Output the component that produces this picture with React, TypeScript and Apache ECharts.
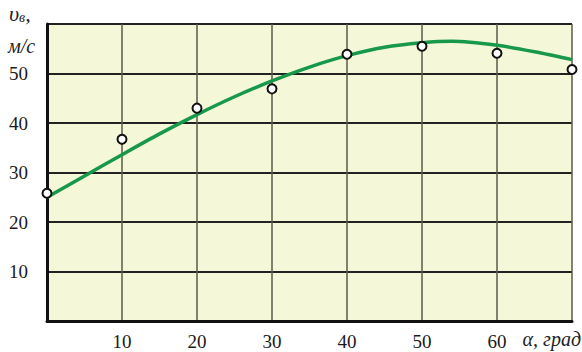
import React, { useEffect, useRef } from "react";
import * as echarts from "echarts";

const pointAngles = [0, 10, 20, 30, 40, 50, 60, 70];
const pointSpeeds = [25.8, 36.7, 43.0, 46.9, 53.9, 55.5, 54.1, 50.8];

const curveAngles = [0, 5, 10, 15, 20, 25, 30, 35, 40, 45, 50, 54, 60, 65, 70];
const curveSpeeds = [25.0, 29.3, 33.6, 37.8, 41.7, 45.3, 48.5, 51.3, 53.6, 55.3, 56.2, 56.5, 55.7, 54.4, 52.8];

const xTickLabels = ["10", "20", "30", "40", "50", "60"];
const yTickLabels = ["10", "20", "30", "40", "50"];

const FONT = "'Liberation Serif', 'DejaVu Serif', serif";

export default function App() {
  const ref = useRef<HTMLDivElement>(null);
  useEffect(() => {
    document.body.style.margin = "0";
    if (!ref.current) return;
    const chart = echarts.init(ref.current, null, { renderer: "svg" });
    chart.setOption({
      animation: false,
      backgroundColor: "#ffffff",
      grid: {
        left: 47,
        right: 10,
        top: 24,
        bottom: 31,
        show: true,
        backgroundColor: "#f5f8d8",
        borderWidth: 0,
      },
      xAxis: {
        type: "value",
        min: 0,
        max: 70,
        interval: 10,
        axisLine: { show: true, onZero: false, lineStyle: { color: "#111", width: 3 } },
        axisTick: { show: false },
        axisLabel: {
          margin: 11,
          fontFamily: FONT,
          fontSize: 19,
          color: "#1a1a1a",
          formatter: (v: number) => (xTickLabels.includes(String(v)) ? String(v) : ""),
        },
        splitLine: { show: true, lineStyle: { color: "#5a5a4a", width: 1.5 } },
      },
      yAxis: {
        type: "value",
        min: 0,
        max: 60,
        interval: 10,
        axisLine: { show: true, onZero: false, lineStyle: { color: "#111", width: 3 } },
        axisTick: { show: false },
        axisLabel: {
          margin: 19,
          fontFamily: FONT,
          fontSize: 19,
          color: "#1a1a1a",
          formatter: (v: number) => (yTickLabels.includes(String(v)) ? String(v) : ""),
        },
        splitLine: { show: true, lineStyle: { color: "#222", width: 2 } },
      },
      graphic: [
        {
          type: "text",
          left: 9,
          top: 2,
          style: {
            text: "{v|υ}{s|в}{v|,}",
            rich: {
              v: { fontFamily: FONT, fontStyle: "italic", fontSize: 22, fill: "#222" },
              s: { fontFamily: FONT, fontStyle: "italic", fontSize: 14, fill: "#222", padding: [8, 0, 0, 0] },
            },
          },
        },
        {
          type: "text",
          left: 8,
          top: 36,
          style: { text: "м/с", fontFamily: FONT, fontStyle: "italic", fontSize: 20, fill: "#222" },
        },
        {
          type: "text",
          right: 1,
          top: 329,
          style: { text: "α, град", fontFamily: FONT, fontStyle: "italic", fontSize: 20, fill: "#222" },
        },
      ],
      series: [
        {
          type: "line",
          data: curveAngles.map((a, i) => [a, curveSpeeds[i]]),
          smooth: 0.3,
          showSymbol: false,
          symbol: "none",
          lineStyle: { color: "#17984a", width: 3.5 },
          z: 3,
        },
        {
          type: "scatter",
          data: pointAngles.map((a, i) => [a, pointSpeeds[i]]),
          symbol: "circle",
          symbolSize: 9,
          clip: false,
          itemStyle: { color: "#ffffff", borderColor: "#111", borderWidth: 2, opacity: 1 },
          z: 4,
        },
      ],
    });
    return () => chart.dispose();
  }, []);
  return <div ref={ref} style={{ width: 582, height: 352 }} />;
}
